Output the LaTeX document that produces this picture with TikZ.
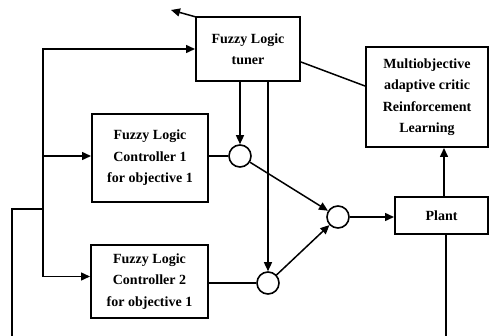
\documentclass[tikz,border=0pt]{standalone}
\usepackage{fontspec}
\setmainfont{Liberation Serif}
\usetikzlibrary{arrows.meta}
\begin{document}
\begin{tikzpicture}[x=1pt,y=-1pt,
  block/.style={draw,line width=2pt,rectangle,align=center,inner sep=0pt,
    font=\fontsize{14}{21.5}\selectfont\bfseries},
  summer/.style={draw,line width=1.6pt,circle,minimum size=22pt,inner sep=0pt},
  wire/.style={line width=1.5pt},
  arr/.style={wire,-{Triangle[length=9pt,width=8pt]}}]
\useasboundingbox (0,0) rectangle (490,336);

% blocks
\node[block,minimum width=104pt,minimum height=64pt] (tuner) at (248,49) {Fuzzy Logic\\tuner};
\node[block,minimum width=116pt,minimum height=88pt] (flc1) at (150,158) {Fuzzy Logic\\Controller 1\\for objective 1};
\node[block,minimum width=117pt,minimum height=73pt] (flc2) at (149.5,281.5) {Fuzzy Logic\\Controller 2\\for objective 1};
\node[block,minimum width=122pt,minimum height=100pt] (mrl) at (427,97) {Multiobjective\\adaptive critic\\Reinforcement\\Learning};
\node[block,minimum width=93pt,minimum height=37pt] (plant) at (441.5,215.5) {Plant};

% summing junctions
\node[summer] (s1) at (240,156) {};
\node[summer] (s2) at (268,283) {};
\node[summer] (s3) at (338,217) {};

% auxiliary points
\coordinate (tout) at (171,10);
\coordinate (J) at (43,209);
\coordinate (L) at (12,209);
\coordinate (Lb) at (12,336);
\coordinate (pb) at (446,336);

% tuner output to the upper left
\draw[arr] ([shift={(1pt,-1pt)}]tuner.north west) -- (tout);

% feedback distribution on the left
\draw[arr] (J) |- (tuner.west);
\draw[arr] (J) |- ([yshift=2pt]flc1.west);
\draw[arr] (J) |- ([yshift=5pt]flc2.west);
\draw[wire] (J) -- (L) -- (Lb);

% tuner to summers and critic
\draw[arr] (tuner.south -| s1) -- (s1);
\draw[arr] (tuner.south -| s2) -- (s2);
\draw[wire] ([yshift=-13pt]tuner.east) -- ([yshift=11pt]mrl.west);

% controllers to summers
\draw[wire] (flc1.east |- s1) -- (s1);
\draw[wire] (flc2.east |- s2) -- (s2);
\draw[arr] (s1) -- (s3);
\draw[arr] (s2) -- (s3);
\draw[arr] (s3) -- (plant.west |- s3);

% plant output
\draw[arr] ([xshift=2.5pt]plant.north) -- ([xshift=2.5pt]plant.north |- mrl.south);
\draw[wire] (plant.south -| pb) -- (pb);
\end{tikzpicture}
\end{document}
